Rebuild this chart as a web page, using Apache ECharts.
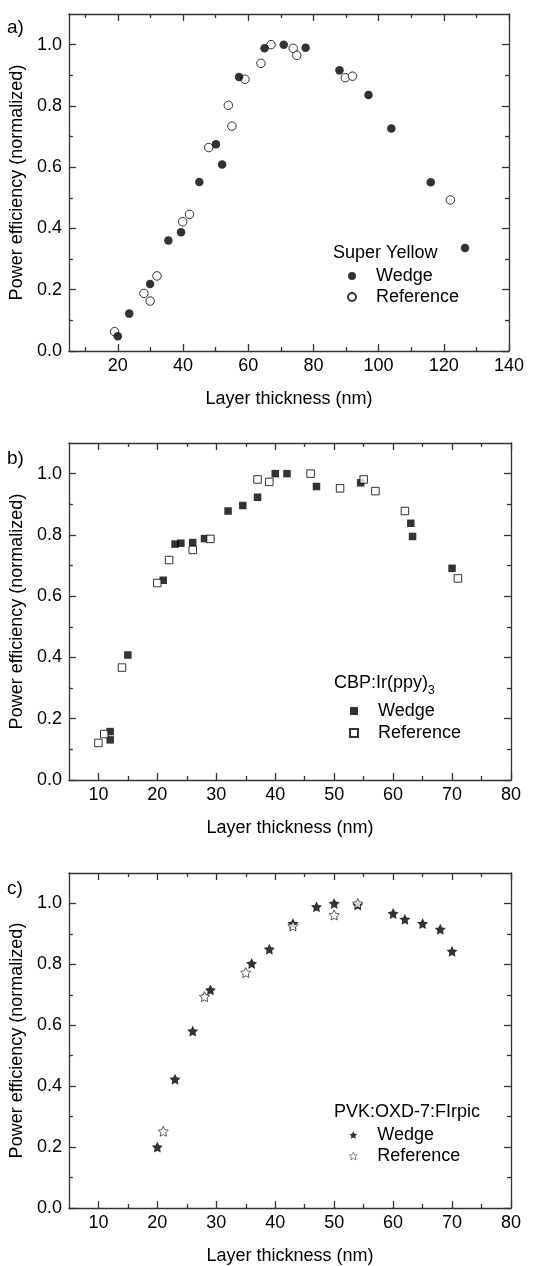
<!DOCTYPE html>
<html>
<head>
<meta charset="utf-8">
<script src="https://cdn.jsdelivr.net/npm/echarts@6/dist/echarts.min.js"></script>
<style>
html,body{margin:0;padding:0;background:#fff;}
#chart{width:539px;height:1266px;}
</style>
</head>
<body>
<div id="chart"></div>
<script>
// ---- Data ----
const aWedgeX = [20, 23.5, 29.9, 35.5, 39.4, 45, 50.1, 52, 57.2, 65, 70.9, 77.6, 88, 96.9, 103.9, 116, 126.5];
const aWedgeY = [0.048, 0.122, 0.219, 0.361, 0.388, 0.552, 0.675, 0.609, 0.894, 0.988, 1.0, 0.99, 0.916, 0.836, 0.726, 0.551, 0.336];
const aRefX = [19, 28, 29.9, 32, 39.9, 42, 47.9, 53.9, 55, 59, 63.9, 67, 73.8, 74.9, 89.8, 92, 122];
const aRefY = [0.063, 0.188, 0.163, 0.245, 0.422, 0.446, 0.664, 0.802, 0.734, 0.887, 0.939, 1.0, 0.988, 0.965, 0.892, 0.897, 0.493];

const bWedgeX = [12, 12, 15, 21, 23, 24, 26, 28, 32, 34.5, 37, 40, 42, 47, 54.5, 63, 63.3, 70];
const bWedgeY = [0.158, 0.131, 0.408, 0.652, 0.770, 0.773, 0.775, 0.788, 0.878, 0.896, 0.923, 1.0, 1.0, 0.958, 0.970, 0.838, 0.795, 0.691];
const bRefX = [10, 11, 14, 20, 22, 26, 29, 37, 39, 46, 51, 55, 57, 62, 71];
const bRefY = [0.121, 0.150, 0.367, 0.643, 0.718, 0.751, 0.787, 0.981, 0.973, 1.0, 0.952, 0.981, 0.943, 0.878, 0.658];

const cWedgeX = [20, 23, 26, 29, 36, 39, 43, 47, 50, 54, 60, 62, 65, 68, 70];
const cWedgeY = [0.200, 0.423, 0.581, 0.716, 0.803, 0.850, 0.934, 0.989, 1.0, 0.995, 0.967, 0.948, 0.934, 0.915, 0.843];
const cRefX = [21, 28, 35, 43, 50, 54];
const cRefY = [0.252, 0.694, 0.773, 0.926, 0.962, 1.0];

// ---- Tick values ----
const aXMajor = [20, 40, 60, 80, 100, 120, 140];
const aXMinor = [10, 30, 50, 70, 90, 110, 130];
const bcXMajor = [10, 20, 30, 40, 50, 60, 70, 80];
const bcXMinor = [15, 25, 35, 45, 55, 65, 75];
const yMajor = [0, 0.2, 0.4, 0.6, 0.8, 1.0];
const yMinor = [0.1, 0.3, 0.5, 0.7, 0.9];

const xTitle = 'Layer thickness (nm)';
const yTitle = 'Power efficiency (normalized)';
const legendTitles = ['Super Yellow', 'CBP:Ir(ppy)', 'PVK:OXD-7:FIrpic'];

const FONT = 'Liberation Sans, Arial, Helvetica, sans-serif';
const AX = '#333';
const starPath = 'path://M0,-10L2.94,-4.05L9.51,-3.09L4.76,1.55L5.88,8.09L0,5L-5.88,8.09L-4.76,1.55L-9.51,-3.09L-2.94,-4.05Z';

const grids = [
  {left: 64, top: 14, width: 445, height: 337},
  {left: 67, top: 443, width: 444, height: 337},
  {left: 67, top: 873, width: 444, height: 337}
];
const xRanges = [[5, 140], [5, 80], [5, 80]];
const xMajors = [aXMajor, bcXMajor, bcXMajor];
const xMinors = [aXMinor, bcXMinor, bcXMinor];

const xAxes = [], yAxes = [];
function lineStyle() { return {color: AX, width: 1.3}; }
grids.forEach((g, i) => {
  const [mn, mx] = xRanges[i];
  xAxes.push({
    gridIndex: i, type: 'value', min: mn, max: mx, position: 'bottom',
    axisLine: {show: true, onZero: false, lineStyle: lineStyle()},
    axisTick: {show: true, inside: true, length: 7, customValues: xMajors[i], lineStyle: lineStyle()},
    axisLabel: {show: true, customValues: xMajors[i], margin: 6, fontSize: 18, color: '#000', fontFamily: FONT},
    splitLine: {show: false},
    name: xTitle, nameLocation: 'middle', nameGap: 39,
    nameTextStyle: {fontSize: 18, color: '#000', fontFamily: FONT}
  });
  xAxes.push({
    gridIndex: i, type: 'value', min: mn, max: mx, position: 'bottom',
    axisLine: {show: false, onZero: false},
    axisTick: {show: true, inside: true, length: 4, customValues: xMinors[i], lineStyle: lineStyle()},
    axisLabel: {show: false}, splitLine: {show: false}
  });
  xAxes.push({
    gridIndex: i, type: 'value', min: mn, max: mx, position: 'top',
    axisLine: {show: true, onZero: false, lineStyle: lineStyle()},
    axisTick: {show: true, inside: true, length: 7, customValues: xMajors[i], lineStyle: lineStyle()},
    axisLabel: {show: false}, splitLine: {show: false}
  });
  xAxes.push({
    gridIndex: i, type: 'value', min: mn, max: mx, position: 'top',
    axisLine: {show: false, onZero: false},
    axisTick: {show: true, inside: true, length: 4, customValues: xMinors[i], lineStyle: lineStyle()},
    axisLabel: {show: false}, splitLine: {show: false}
  });
  yAxes.push({
    gridIndex: i, type: 'value', min: 0, max: 1.1, position: 'left',
    axisLine: {show: true, onZero: false, lineStyle: lineStyle()},
    axisTick: {show: true, inside: true, length: 7, customValues: yMajor, lineStyle: lineStyle()},
    axisLabel: {show: true, customValues: yMajor, margin: 7, fontSize: 18, color: '#000', fontFamily: FONT,
      formatter: v => Number(v).toFixed(1)},
    splitLine: {show: false},
    name: yTitle, nameLocation: 'middle', nameGap: 37,
    nameTextStyle: {fontSize: 18, color: '#000', fontFamily: FONT}
  });
  yAxes.push({
    gridIndex: i, type: 'value', min: 0, max: 1.1, position: 'left',
    axisLine: {show: false, onZero: false},
    axisTick: {show: true, inside: true, length: 4, customValues: yMinor, lineStyle: lineStyle()},
    axisLabel: {show: false}, splitLine: {show: false}
  });
  yAxes.push({
    gridIndex: i, type: 'value', min: 0, max: 1.1, position: 'right',
    axisLine: {show: true, onZero: false, lineStyle: lineStyle()},
    axisTick: {show: true, inside: true, length: 7, customValues: yMajor, lineStyle: lineStyle()},
    axisLabel: {show: false}, splitLine: {show: false}
  });
  yAxes.push({
    gridIndex: i, type: 'value', min: 0, max: 1.1, position: 'right',
    axisLine: {show: false, onZero: false},
    axisTick: {show: true, inside: true, length: 4, customValues: yMinor, lineStyle: lineStyle()},
    axisLabel: {show: false}, splitLine: {show: false}
  });
});

function zip(xs, ys) { return xs.map((x, k) => [x, ys[k]]); }
const filled = {color: '#000'};
const open = {color: '#fff', borderColor: '#000', borderWidth: 1};
const openStar = {color: '#fff', borderColor: '#000', borderWidth: 0.8};

function ser(name, gi, xs, ys, symbol, size, style, z) {
  return {
    name: name, type: 'scatter', xAxisIndex: gi * 4, yAxisIndex: gi * 4,
    data: zip(xs, ys), symbol: symbol, symbolSize: size, itemStyle: style, z: z,
    emphasis: {disabled: true}, silent: true, animation: false
  };
}

const series = [
  ser('Reference_a', 0, aRefX, aRefY, 'circle', 8.5, open, 2),
  ser('Wedge_a', 0, aWedgeX, aWedgeY, 'circle', 8.5, filled, 3),
  ser('Wedge_b', 1, bWedgeX, bWedgeY, 'rect', 7.5, filled, 2),
  ser('Reference_b', 1, bRefX, bRefY, 'rect', 7.5, open, 3),
  ser('Wedge_c', 2, cWedgeX, cWedgeY, starPath, 11, filled, 2),
  ser('Reference_c', 2, cRefX, cRefY, starPath, 10, openStar, 3)
];

const legendPos = [
  {left: 347, top: 267},
  {left: 349, top: 702},
  {left: 349, top: 1126}
];
const suffix = ['a', 'b', 'c'];
const legends = legendPos.map((p, i) => ({
  left: p.left, top: p.top, orient: 'vertical', padding: 0,
  itemWidth: 8, itemHeight: 8, itemGap: 3 + (i === 1 ? 1 : 0), selectedMode: false,
  data: i === 2
    ? [{name: 'Wedge_c'}, {name: 'Reference_c', itemStyle: {borderWidth: 0.6}}]
    : ['Wedge_' + suffix[i], 'Reference_' + suffix[i]],
  formatter: n => '{g|}' + n.split('_')[0],
  textStyle: {fontSize: 18, color: '#000', fontFamily: FONT, lineHeight: 18,
    rich: {g: {width: 15}}}
}));

const graphic = [
  {type: 'text', left: 7, top: 18, style: {text: 'a)', fontSize: 19, fill: '#000', fontFamily: FONT}},
  {type: 'text', left: 7, top: 449, style: {text: 'b)', fontSize: 19, fill: '#000', fontFamily: FONT}},
  {type: 'text', left: 7, top: 879, style: {text: 'c)', fontSize: 19, fill: '#000', fontFamily: FONT}},
  {type: 'text', left: 333, top: 244, style: {text: legendTitles[0], fontSize: 18, fill: '#000', fontFamily: FONT}},
  {type: 'text', left: 334, top: 674, style: {text: legendTitles[1], fontSize: 18, fill: '#000', fontFamily: FONT}},
  {type: 'text', left: 428, top: 685, style: {text: '3', fontSize: 12, fill: '#000', fontFamily: FONT}},
  {type: 'text', left: 334, top: 1103, style: {text: legendTitles[2], fontSize: 18, fill: '#000', fontFamily: FONT}}
];

const chart = echarts.init(document.getElementById('chart'), null, {renderer: 'canvas'});
chart.setOption({
  animation: false,
  backgroundColor: '#fff',
  textStyle: {fontFamily: FONT},
  grid: grids.map(g => Object.assign({containLabel: false}, g)),
  xAxis: xAxes,
  yAxis: yAxes,
  legend: legends,
  graphic: graphic,
  series: series
});
</script>
</body>
</html>
